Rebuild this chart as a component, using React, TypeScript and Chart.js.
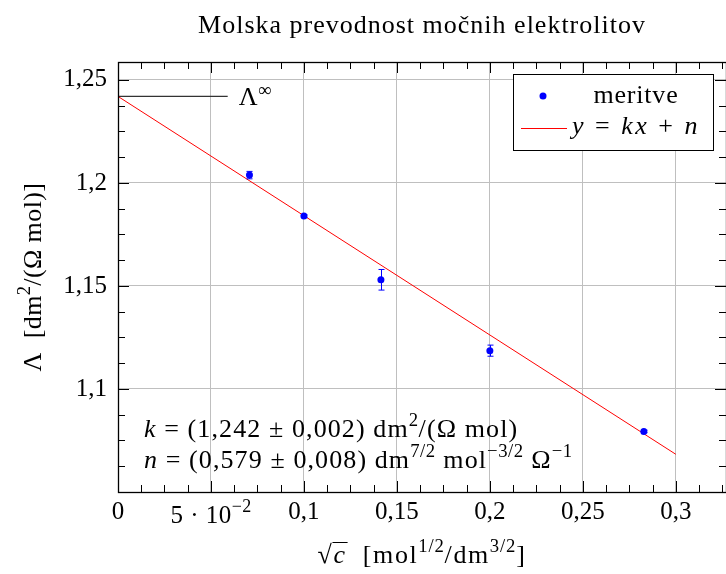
import React, { useEffect, useRef } from 'react';
import { Chart, registerables } from 'chart.js';

Chart.register(...registerables);

// ---------- data ----------
const chartTitle = 'Molska prevodnost močnih elektrolitov';
const sqrtC = [0.0707, 0.1, 0.1414, 0.2, 0.2828];
const lambdaVals = [1.2038, 1.1839, 1.153, 1.1186, 1.0794];
const lambdaErr = [0.0018, 0.0006, 0.005, 0.0027, 0.0006];
const fitX = [0, 0.3];
const fitY = [1.242, 1.0683];
const lambdaInfX = [0, 0.059];
const lambdaInfY = [1.242, 1.242];
const xTicks = [0, 0.05, 0.1, 0.15, 0.2, 0.25, 0.3];
const yTicks = [1.1, 1.15, 1.2, 1.25];
const legendLabels = ['meritve', 'y = kx + n'];

const X_MIN = 0;
const X_MAX = 0.327;
const Y_MIN = 1.05;
const Y_MAX = 1.2587;
const MINOR_STEP = 0.0125;

const FAMILY = "'Liberation Serif', 'Times New Roman', serif";
const BLUE = '#0000ff';
const RED = '#ff0000';

type Seg = { t: string; it?: boolean; sup?: boolean; over?: boolean };

function fontFor(s: Seg, size: number) {
  const sz = s.sup ? size * 0.72 : size;
  return `${s.it ? 'italic ' : ''}${sz}px ${FAMILY}`;
}

function setLS(ctx: CanvasRenderingContext2D, ls: number) {
  (ctx as any).letterSpacing = `${ls}px`;
}

function richWidth(ctx: CanvasRenderingContext2D, segs: Seg[], size: number, ls: number) {
  let w = 0;
  for (const s of segs) {
    ctx.font = fontFor(s, size);
    setLS(ctx, s.sup ? ls * 0.5 : ls);
    w += ctx.measureText(s.t).width;
  }
  return w;
}

function drawRich(
  ctx: CanvasRenderingContext2D,
  segs: Seg[],
  x: number,
  y: number,
  size: number,
  align: 'left' | 'center' | 'right',
  ls = 0,
  supRaise = 0.42
) {
  const w = richWidth(ctx, segs, size, ls);
  let cx = align === 'center' ? x - w / 2 : align === 'right' ? x - w : x;
  ctx.textAlign = 'left';
  ctx.textBaseline = 'alphabetic';
  let radTop = y - size * 0.8;
  for (const s of segs) {
    ctx.font = fontFor(s, size);
    setLS(ctx, s.sup ? ls * 0.5 : ls);
    const m = ctx.measureText(s.t);
    if (s.t === '√') radTop = y - m.actualBoundingBoxAscent;
    ctx.fillText(s.t, cx, s.sup ? y - size * supRaise : y);
    if (s.over) {
      ctx.save();
      ctx.strokeStyle = '#000';
      ctx.lineWidth = 1;
      ctx.beginPath();
      ctx.moveTo(cx - 1, radTop + 0.5);
      ctx.lineTo(cx + m.width + 1, radTop + 0.5);
      ctx.stroke();
      ctx.restore();
    }
    cx += m.width;
  }
  setLS(ctx, 0);
}

const fmt = (v: number) => {
  if (Math.abs(v) < 1e-9) return '0';
  return String(Math.round(v * 1000) / 1000).replace('.', ',');
};

const decorPlugin = {
  id: 'decor',
  afterDatasetsDraw(chart: any) {
    const ctx: CanvasRenderingContext2D = chart.ctx;
    const xs = chart.scales.x;
    const ys = chart.scales.y;
    const a = chart.chartArea;
    ctx.save();

    // error bars
    ctx.strokeStyle = BLUE;
    ctx.lineWidth = 1;
    for (let i = 0; i < sqrtC.length; i++) {
      const px = Math.round(xs.getPixelForValue(sqrtC[i])) + 0.5;
      const y1 = ys.getPixelForValue(lambdaVals[i] + lambdaErr[i]);
      const y2 = ys.getPixelForValue(lambdaVals[i] - lambdaErr[i]);
      ctx.beginPath();
      ctx.moveTo(px, y1);
      ctx.lineTo(px, y2);
      ctx.moveTo(px - 3, y1);
      ctx.lineTo(px + 3, y1);
      ctx.moveTo(px - 3, y2);
      ctx.lineTo(px + 3, y2);
      ctx.stroke();
    }

    // inward ticks
    ctx.strokeStyle = '#000';
    ctx.lineWidth = 1;
    ctx.beginPath();
    for (let i = 0; ; i++) {
      const v = X_MIN + i * MINOR_STEP;
      if (v > X_MAX + 1e-9) break;
      const isMajor = i % 4 === 0;
      const len = isMajor ? 11 : 7;
      const px = Math.round(xs.getPixelForValue(v)) + 0.5;
      ctx.moveTo(px, a.bottom);
      ctx.lineTo(px, a.bottom - len);
      ctx.moveTo(px, a.top);
      ctx.lineTo(px, a.top + len);
    }
    for (let i = 0; ; i++) {
      const v = Y_MIN + i * MINOR_STEP;
      if (v > Y_MAX + 1e-9) break;
      const isMajor = i % 4 === 0;
      const len = isMajor ? 11 : 7;
      const py = Math.round(ys.getPixelForValue(v)) + 0.5;
      ctx.moveTo(a.left, py);
      ctx.lineTo(a.left + len, py);
      ctx.moveTo(a.right, py);
      ctx.lineTo(a.right - len, py);
    }
    ctx.stroke();

    // frame
    ctx.lineWidth = 1.3;
    ctx.strokeRect(Math.round(a.left) + 0.5, Math.round(a.top) + 0.5, a.right - a.left, a.bottom - a.top);
    ctx.restore();
  },
  afterDraw(chart: any) {
    const ctx: CanvasRenderingContext2D = chart.ctx;
    const xs = chart.scales.x;
    const ys = chart.scales.y;
    const a = chart.chartArea;
    const cx = (a.left + a.right) / 2;
    ctx.save();
    ctx.fillStyle = '#000';

    // title
    drawRich(ctx, [{ t: chartTitle }], cx, 33, 26, 'center', 1);

    // special x tick label 5·10^-2
    drawRich(ctx, [{ t: '5 · 10' }, { t: '−2', sup: true }], xs.getPixelForValue(xTicks[1]), 523, 25, 'center', 0.5, 0.45);

    // x axis title
    drawRich(
      ctx,
      [
        { t: '√' },
        { t: 'c', it: true, over: true },
        { t: '  [mol' },
        { t: '1/2', sup: true },
        { t: '/dm' },
        { t: '3/2', sup: true },
        { t: ']' },
      ],
      cx,
      563,
      26,
      'center',
      1.6
    );

    // y axis title (rotated)
    ctx.save();
    ctx.translate(41, (a.top + a.bottom) / 2);
    ctx.rotate(-Math.PI / 2);
    drawRich(
      ctx,
      [{ t: 'Λ  [dm' }, { t: '2', sup: true }, { t: '/(Ω mol)]' }],
      0,
      0,
      26,
      'center',
      0.4
    );
    ctx.restore();

    // Lambda infinity label
    const infY = ys.getPixelForValue(lambdaInfY[0]);
    drawRich(ctx, [{ t: 'Λ' }, { t: '∞', sup: true }], xs.getPixelForValue(lambdaInfX[1]) + 11, infY + 9, 26, 'left', 0.5, 0.38);

    // annotation text
    drawRich(
      ctx,
      [
        { t: 'k', it: true },
        { t: ' = (1,242 ± 0,002) dm' },
        { t: '2', sup: true },
        { t: '/(Ω mol)' },
      ],
      144,
      437,
      26,
      'left',
      1.1
    );
    drawRich(
      ctx,
      [
        { t: 'n', it: true },
        { t: ' = (0,579 ± 0,008) dm' },
        { t: '7/2', sup: true },
        { t: ' mol' },
        { t: '−3/2', sup: true },
        { t: ' Ω' },
        { t: '−1', sup: true },
      ],
      144,
      468,
      26,
      'left',
      1.1
    );

    // legend
    const lx = 513, ly = 74, lw = 200, lh = 76;
    ctx.fillStyle = '#fff';
    ctx.fillRect(lx, ly, lw, lh);
    ctx.strokeStyle = '#000';
    ctx.lineWidth = 1;
    ctx.strokeRect(lx + 0.5, ly + 0.5, lw, lh);
    ctx.fillStyle = BLUE;
    ctx.beginPath();
    ctx.arc(543, 96, 3.5, 0, Math.PI * 2);
    ctx.fill();
    ctx.strokeStyle = RED;
    ctx.beginPath();
    ctx.moveTo(521, 128.5);
    ctx.lineTo(567, 128.5);
    ctx.stroke();
    ctx.fillStyle = '#000';
    drawRich(ctx, [{ t: legendLabels[0] }], 636, 103, 26, 'center', 0.8);
    drawRich(
      ctx,
      [
        { t: 'y', it: true },
        { t: ' = ' },
        { t: 'kx', it: true },
        { t: ' + ' },
        { t: 'n', it: true },
      ],
      636,
      134,
      26,
      'center',
      2.5
    );
    ctx.restore();
  },
};

export default function App() {
  const ref = useRef<HTMLCanvasElement>(null);
  useEffect(() => {
    if (!ref.current) return;
    const chart = new Chart(ref.current, {
      type: 'scatter',
      data: {
        datasets: [
          {
            label: legendLabels[0],
            data: sqrtC.map((x, i) => ({ x, y: lambdaVals[i] })),
            backgroundColor: BLUE,
            borderColor: BLUE,
            pointRadius: 3.5,
            pointBorderWidth: 0,
            showLine: false,
            order: 0,
          },
          {
            label: legendLabels[1],
            data: fitX.map((x, i) => ({ x, y: fitY[i] })),
            borderColor: RED,
            backgroundColor: RED,
            borderWidth: 1,
            pointRadius: 0,
            showLine: true,
            order: 1,
          },
          {
            label: 'Λ∞',
            data: lambdaInfX.map((x, i) => ({ x, y: lambdaInfY[i] })),
            borderColor: '#333',
            borderWidth: 1.2,
            pointRadius: 0,
            showLine: true,
            order: 2,
          },
        ],
      },
      options: {
        animation: false,
        responsive: false,
        maintainAspectRatio: false,
        devicePixelRatio: 1,
        layout: { padding: { top: 62, right: 2, left: 0, bottom: 0 } },
        plugins: {
          legend: { display: false },
          title: { display: false },
          tooltip: { enabled: false },
        },
        scales: {
          x: {
            type: 'linear',
            min: X_MIN,
            max: X_MAX,
            afterBuildTicks: (s: any) => {
              s.ticks = xTicks.map((v) => ({ value: v }));
            },
            afterFit: (s: any) => {
              s.height = 82;
            },
            grid: { color: '#bfbfbf', lineWidth: 1, drawTicks: false },
            border: { display: false },
            ticks: {
              autoSkip: false,
              maxRotation: 0,
              padding: 5,
              color: '#000',
              font: { family: FAMILY, size: 25 },
              callback: (v: any) => (Math.abs(v - 0.05) < 1e-9 ? '' : fmt(v)),
            },
          },
          y: {
            type: 'linear',
            min: Y_MIN,
            max: Y_MAX,
            afterBuildTicks: (s: any) => {
              s.ticks = yTicks.map((v) => ({ value: v }));
            },
            afterFit: (s: any) => {
              s.width = 118;
            },
            grid: { color: '#bfbfbf', lineWidth: 1, drawTicks: false },
            border: { display: false },
            ticks: {
              autoSkip: false,
              padding: 11,
              color: '#000',
              font: { family: FAMILY, size: 25 },
              callback: (v: any) => fmt(v),
            },
          },
        },
      },
      plugins: [decorPlugin],
    });
    return () => chart.destroy();
  }, []);
  return (
    <div style={{ position: 'absolute', left: 0, top: 0, width: 726, height: 574, overflow: 'hidden', background: '#fff' }}>
      <canvas ref={ref} width={730} height={574} style={{ display: 'block', width: 730, height: 574 }} />
    </div>
  );
}
